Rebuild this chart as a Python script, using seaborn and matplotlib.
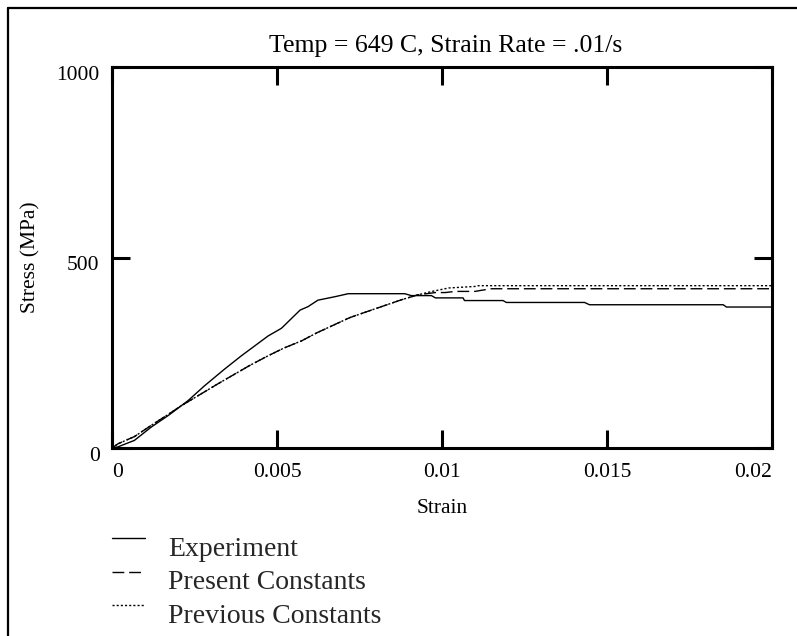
import matplotlib
matplotlib.use("Agg")
import matplotlib.pyplot as plt
import matplotlib.transforms as mtransforms
import seaborn as sns
import pandas as pd
from matplotlib.lines import Line2D

# ---- data ----
exp_strain = [0, 0.00018, 0.00068, 0.00119, 0.0017, 0.0023, 0.0028, 0.00341, 0.00392,
              0.00473, 0.00513, 0.00518, 0.0057, 0.00594, 0.00624, 0.00675, 0.00716, 0.00887,
              0.00907, 0.00968, 0.0098, 0.01064, 0.01068, 0.01185, 0.01195, 0.01432,
              0.01447, 0.01852, 0.01862, 0.0202]
exp_stress = [0, 3, 20, 55, 85, 124, 163, 207, 242,
              294, 314, 318, 362, 371, 388, 397, 405, 405,
              400, 400, 394, 394, 387, 387, 382, 382,
              376, 376, 370, 370]

model_strain = [0, 0.00018, 0.00068, 0.0012, 0.0017, 0.0021, 0.0027, 0.0032, 0.00372,
                0.0042, 0.00473, 0.0052, 0.00574, 0.0062, 0.00675, 0.0072, 0.00776,
                0.0083, 0.00877, 0.00927]
model_stress = [0, 11, 30, 60, 88, 111, 142, 168, 194,
                218, 242, 262, 281, 302, 324, 342, 359,
                375, 389, 402]

present_tail_strain = [0.0098, 0.0101, 0.0104, 0.0110, 0.0112, 0.0115, 0.0202]
present_tail_stress = [408, 408, 411, 411, 414, 418, 418]
previous_tail_strain = [0.0097, 0.0102, 0.0110, 0.0111, 0.0202]
previous_tail_stress = [411, 420, 424, 426, 426]

series_names = ["Experiment", "Present Constants", "Previous Constants"]
title_text = "Temp = 649 C, Strain Rate = .01/s"
x_ticks = [0, 0.005, 0.01, 0.015, 0.02]
x_tick_labels = ["0", "0.005", "0.01", "0.015", "0.02"]
y_ticks = [0, 500, 1000]
y_tick_labels = ["0", "500", "1000"]

# ---- tidy table ----
rows = []
for s, v in zip(exp_strain, exp_stress):
    rows.append((series_names[0], s, v))
for s, v in zip(model_strain + present_tail_strain, model_stress + present_tail_stress):
    rows.append((series_names[1], s, v))
for s, v in zip(model_strain + previous_tail_strain, model_stress + previous_tail_stress):
    rows.append((series_names[2], s, v))
df = pd.DataFrame(rows, columns=["series", "strain", "stress"])

sns.set_theme(style="white")
plt.rcParams["font.family"] = ["Liberation Serif", "DejaVu Serif"]

fig = plt.figure(figsize=(7.97, 6.36), dpi=100)
ax = fig.add_axes([112 / 797, 1 - 448 / 636, 660 / 797, 381 / 636])

dash_map = {series_names[0]: "", series_names[1]: (8.5, 3.5), series_names[2]: (1.5, 1.5)}
sns.lineplot(data=df, x="strain", y="stress", style="series", dashes=dash_map,
             color="black", linewidth=1.0, sort=False, estimator=None,
             legend=False, ax=ax, style_order=series_names)

ax.set_xlim(0, 0.02)
ax.set_ylim(0, 1000)
ax.set_xticks(x_ticks)
ax.set_xticklabels(x_tick_labels)
ax.set_yticks(y_ticks)
ax.set_yticklabels(y_tick_labels)
ax.tick_params(direction="in", length=13, width=2.2, colors="black", labelsize=15.5,
               top=True, right=True, bottom=True, left=True)
ax.tick_params(axis="x", pad=11)
ax.tick_params(axis="y", pad=9)
for sp in ax.spines.values():
    sp.set_visible(True)
    sp.set_linewidth(2.2)
    sp.set_color("black")
ax.set_facecolor("white")

xl = ax.get_xticklabels()
xl[0].set_horizontalalignment("left")
xl[-1].set_horizontalalignment("right")
shift_down = mtransforms.ScaledTranslation(0, -4 / 72, fig.dpi_scale_trans)
for lab in ax.get_yticklabels():
    lab.set_transform(lab.get_transform() + shift_down)

ax.set_xlabel("Strain", fontsize=15.5, labelpad=12, color="black")
ax.set_ylabel("Stress (MPa)", fontsize=15.5, labelpad=11, color="black")
ax.set_title(title_text, fontsize=18.5, pad=11, color="black", x=0.506)

handles = [Line2D([], [], color="black", lw=1.0, linestyle=(0, dash_map[n]) if dash_map[n] else "-")
           for n in series_names]
leg = fig.legend(handles, series_names, loc="upper left", bbox_to_anchor=(101 / 797, 1 - 525 / 636),
                 frameon=False, fontsize=20, handlelength=1.2, handletextpad=0.83,
                 labelspacing=0.3, borderaxespad=0)
for ln in leg.get_lines():
    ln.set_transform(ln.get_transform() + mtransforms.Affine2D().translate(0, 8))

# outer frame of the reference figure (top and left edges)
fig.add_artist(Line2D([8 / 797, 8 / 797], [0, 1 - 8 / 636], transform=fig.transFigure,
                      color="black", lw=1.6))
fig.add_artist(Line2D([8 / 797, 1], [1 - 8 / 636, 1 - 8 / 636], transform=fig.transFigure,
                      color="black", lw=1.6))

fig.savefig("out.png", dpi=100, facecolor="white")
